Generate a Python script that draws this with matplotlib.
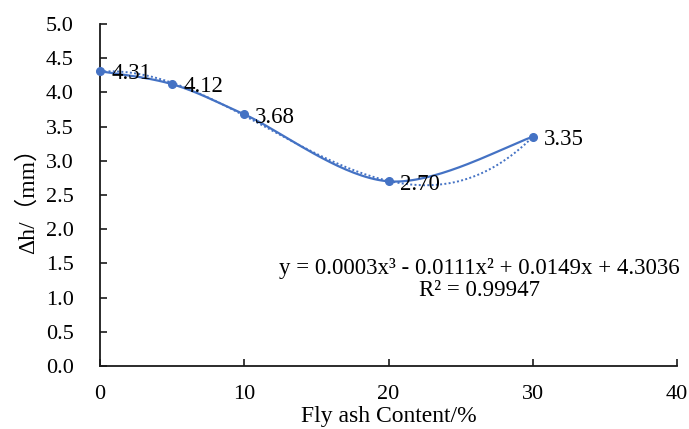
import numpy as np
import matplotlib
matplotlib.use("Agg")
import matplotlib.pyplot as plt

plt.rcParams['font.family'] = ['Liberation Serif', 'Noto Sans CJK SC', 'DejaVu Sans']

# Measured data
fly_ash = [0, 5, 10, 20, 30]
delta_h = [4.31, 4.12, 3.68, 2.70, 3.35]
value_labels = ["4.31", "4.12", "3.68", "2.70", "3.35"]
x_ticks = [0, 10, 20, 30, 40]
y_ticks = [0.0, 0.5, 1.0, 1.5, 2.0, 2.5, 3.0, 3.5, 4.0, 4.5, 5.0]
equation_text = "y = 0.0003x³ - 0.0111x² + 0.0149x + 4.3036\nR² = 0.99947"

blue = "#4472C4"
ink = "#1a1a1a"


def smooth_curve(xs, ys, n=40):
    """Bezier smoothing through the points (spreadsheet-style smoothed line)."""
    xs = np.asarray(xs, float)
    ys = np.asarray(ys, float)
    px, py = [], []
    m = len(xs)
    for i in range(m - 1):
        x0, y0 = (xs[i - 1], ys[i - 1]) if i > 0 else (xs[i], ys[i])
        x1, y1 = xs[i], ys[i]
        x2, y2 = xs[i + 1], ys[i + 1]
        x3, y3 = (xs[i + 2], ys[i + 2]) if i + 2 < m else (xs[i + 1], ys[i + 1])
        c1x, c1y = x1 + (x2 - x0) / 6, y1 + (y2 - y0) / 6
        c2x, c2y = x2 - (x3 - x1) / 6, y2 - (y3 - y1) / 6
        t = np.linspace(0, 1, n)
        bx = (1 - t) ** 3 * x1 + 3 * (1 - t) ** 2 * t * c1x + 3 * (1 - t) * t ** 2 * c2x + t ** 3 * x2
        by = (1 - t) ** 3 * y1 + 3 * (1 - t) ** 2 * t * c1y + 3 * (1 - t) * t ** 2 * c2y + t ** 3 * y2
        px.extend(bx)
        py.extend(by)
    return np.array(px), np.array(py)


fig = plt.figure(figsize=(6.89, 4.29), dpi=100)
ax = fig.add_axes([100 / 689, (429 - 366) / 429, 577 / 689, 342 / 429])

# Cubic trendline
coef = np.polyfit(fly_ash, delta_h, 3)
xf = np.linspace(min(fly_ash), max(fly_ash), 200)
ax.plot(xf, np.polyval(coef, xf), color=blue, lw=1.4, ls=(0, (1, 1.2)), zorder=2)

# Smoothed data line with markers
sx, sy = smooth_curve(fly_ash, delta_h)
ax.plot(sx, sy, color=blue, lw=1.6, zorder=3)
ax.plot(fly_ash, delta_h, 'o', color=blue, ms=5.5, zorder=4, clip_on=False)

for x, y, s in zip(fly_ash, delta_h, value_labels):
    ax.annotate(s, (x, y), xytext=(8, -2), textcoords='offset points',
                ha='left', va='center', fontsize=16.5, color='black', zorder=5)

ax.text(26.3, 1.26, equation_text, ha='center', va='center', fontsize=16.5,
        linespacing=1.05)

ax.set_xlim(0, 40)
ax.set_ylim(0, 5.0)
ax.set_xticks(x_ticks)
ax.set_yticks(y_ticks)
ax.set_xticklabels([str(v) for v in x_ticks])
ax.set_yticklabels([f"{v:.1f}" for v in y_ticks])
ax.tick_params(direction='in', length=5, width=1.2, labelsize=16, color=ink)
ax.tick_params(axis='x', pad=14)
ax.tick_params(axis='y', pad=19)
for side in ('top', 'right'):
    ax.spines[side].set_visible(False)
for side in ('left', 'bottom'):
    ax.spines[side].set_linewidth(1.3)
    ax.spines[side].set_color(ink)

ax.set_xlabel("Fly ash Content/%", fontsize=17, labelpad=1)
ax.set_ylabel("Δh/（mm）", fontsize=17, labelpad=5)

fig.savefig("out.png", dpi=100)
